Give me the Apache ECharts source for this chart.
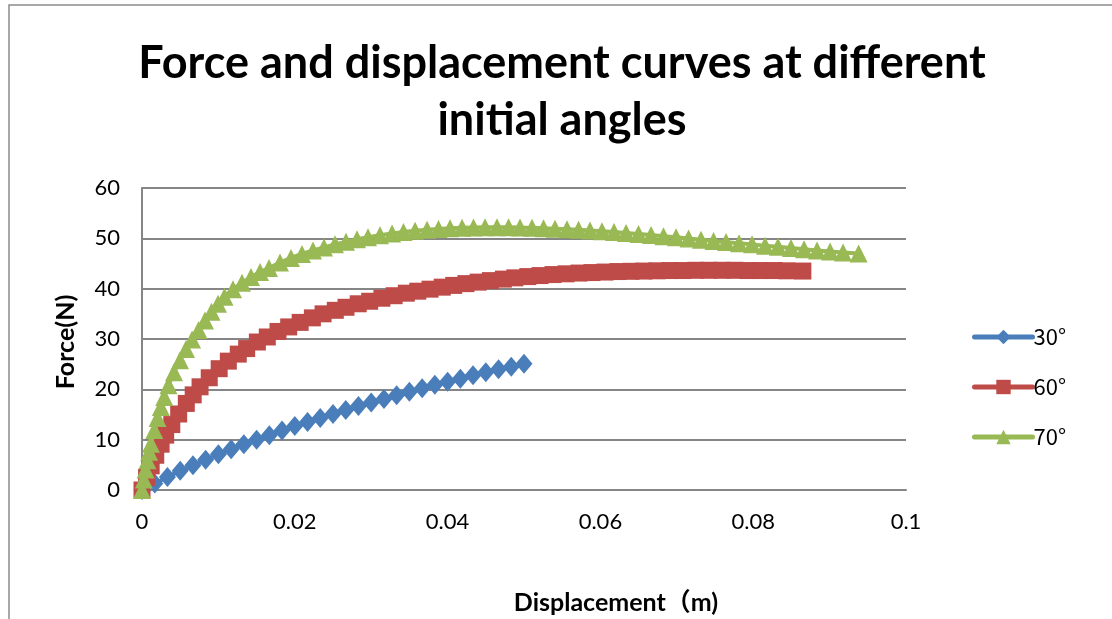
<!DOCTYPE html>
<html>
<head>
<meta charset="utf-8">
<script src="https://cdn.jsdelivr.net/npm/echarts@6/dist/echarts.min.js"></script>
<style>
  html, body { margin: 0; padding: 0; background: #fff; }
  #chart { width: 1112px; height: 619px; }
</style>
</head>
<body>
<div id="chart"></div>
<script>
// Force (N) versus displacement (m) for three initial angles
const seriesNames = ['30°', '60°', '70°'];

const disp30 = [0, 0.00167, 0.00333, 0.005, 0.00667, 0.00833, 0.01, 0.01167, 0.01333, 0.015,
  0.01667, 0.01833, 0.02, 0.02167, 0.02333, 0.025, 0.02667, 0.02833, 0.03, 0.03167,
  0.03333, 0.035, 0.03667, 0.03833, 0.04, 0.04167, 0.04333, 0.045, 0.04667, 0.04833, 0.05];
const force30 = [0, 1.3, 2.6, 3.8, 4.9, 6.0, 7.1, 8.1, 9.1, 10.0,
  10.9, 11.8, 12.7, 13.5, 14.3, 15.1, 15.9, 16.7, 17.4, 18.1,
  18.8, 19.5, 20.2, 20.9, 21.5, 22.1, 22.8, 23.4, 24.0, 24.5, 25.1];

const disp60 = [0, 0.0006, 0.0012, 0.0018, 0.0025, 0.0031, 0.0039, 0.0048, 0.0058, 0.0067,
  0.0076, 0.0088, 0.0101, 0.0113, 0.0126, 0.0137, 0.0151, 0.0164, 0.0178, 0.0192,
  0.0207, 0.0223, 0.0237, 0.0253, 0.0267, 0.0283, 0.0298, 0.0314, 0.0330, 0.0346,
  0.0361, 0.0377, 0.0393, 0.0408, 0.0424, 0.0440, 0.0456, 0.0473, 0.0488, 0.0505,
  0.0521, 0.0538, 0.0555, 0.0572, 0.0589, 0.0606, 0.0623, 0.0640, 0.0657, 0.0674,
  0.0691, 0.0708, 0.0725, 0.0742, 0.0759, 0.0776, 0.0793, 0.0810, 0.0827, 0.0844, 0.0865];
const force60 = [0, 2.5, 4.8, 6.9, 9.1, 10.9, 13.0, 15.1, 17.2, 18.9,
  20.5, 22.3, 24.1, 25.6, 27.0, 28.1, 29.4, 30.4, 31.5, 32.4,
  33.3, 34.2, 35.0, 35.7, 36.3, 37.0, 37.5, 38.1, 38.6, 39.1,
  39.5, 39.9, 40.3, 40.65, 41.0, 41.3, 41.6, 41.9, 42.15, 42.4,
  42.6, 42.8, 42.95, 43.1, 43.2, 43.3, 43.4, 43.45, 43.5, 43.55,
  43.6, 43.6, 43.65, 43.65, 43.65, 43.65, 43.6, 43.6, 43.6, 43.55, 43.5];

const disp70 = [0, 0.00024, 0.00047, 0.00071, 0.00094, 0.00118, 0.00161, 0.00204, 0.00247, 0.00291,
  0.00347, 0.00419, 0.00497, 0.00576, 0.00655, 0.0074, 0.00825, 0.0091, 0.00995, 0.0108,
  0.01191, 0.01309, 0.01427, 0.01545, 0.01662, 0.01806, 0.0195, 0.02094, 0.02238, 0.02382,
  0.02526, 0.0267, 0.02814, 0.02958, 0.03115, 0.03273, 0.03423, 0.03574, 0.03731, 0.03881,
  0.04032, 0.04189, 0.04339, 0.0449, 0.04647, 0.04798, 0.04948, 0.05105, 0.05256, 0.05406,
  0.05563, 0.05714, 0.05864, 0.06021, 0.06178, 0.06336, 0.06499, 0.06663, 0.06826, 0.0699,
  0.07154, 0.07317, 0.07481, 0.07645, 0.07815, 0.07985, 0.08155, 0.08325, 0.08495, 0.08666,
  0.08836, 0.09006, 0.09176, 0.0938];
const force70 = [0, 2.1, 4.05, 5.9, 7.6, 9.2, 11.9, 14.3, 16.5, 18.5,
  20.8, 23.4, 25.8, 28.0, 29.9, 31.8, 33.7, 35.4, 37.0, 38.4,
  39.9, 41.2, 42.3, 43.3, 44.1, 45.2, 46.1, 46.9, 47.6, 48.2,
  48.8, 49.3, 49.8, 50.2, 50.6, 50.95, 51.25, 51.5, 51.7, 51.85,
  52.0, 52.1, 52.15, 52.2, 52.2, 52.2, 52.15, 52.1, 52.0, 51.9,
  51.8, 51.7, 51.55, 51.4, 51.25, 51.05, 50.85, 50.65, 50.4, 50.2,
  49.95, 49.7, 49.45, 49.25, 49.0, 48.8, 48.55, 48.35, 48.1, 47.85,
  47.6, 47.4, 47.2, 47.0];

const yTicks = [0, 10, 20, 30, 40, 50, 60];
const xTicks = [0, 0.02, 0.04, 0.06, 0.08, 0.1];

const colors = ['#4A7EBB', '#BE4B48', '#98B954'];
const symbols = ['diamond', 'rect', 'triangle'];
const symbolSizes = [[17, 20], [17, 17], [18, 18]];

function pairs(xs, ys) {
  return xs.map((x, i) => [x, ys[i]]);
}

const seriesData = [pairs(disp30, force30), pairs(disp60, force60), pairs(disp70, force70)];

const chart = echarts.init(document.getElementById('chart'), null, { renderer: 'canvas' });

const baseFont = 'Lato, "Noto Sans", sans-serif';

chart.setOption({
  animation: false,
  backgroundColor: '#ffffff',
  color: colors,
  grid: { left: 142, right: 206, top: 188, bottom: 129, containLabel: false },
  xAxis: {
    type: 'value',
    min: xTicks[0],
    max: xTicks[xTicks.length - 1],
    interval: xTicks[1] - xTicks[0],
    axisLine: { show: true, lineStyle: { color: '#868686', width: 2 } },
    axisTick: { show: false },
    splitLine: { show: false },
    axisLabel: {
      color: '#000', fontFamily: baseFont, fontSize: 22, margin: 21,
      formatter: v => String(parseFloat(v.toFixed(2)))
    }
  },
  yAxis: {
    type: 'value',
    min: yTicks[0],
    max: yTicks[yTicks.length - 1],
    interval: yTicks[1] - yTicks[0],
    axisLine: { show: true, lineStyle: { color: '#868686', width: 2 } },
    axisTick: { show: false },
    splitLine: { show: true, lineStyle: { color: '#868686', width: 2 } },
    axisLabel: { color: '#000', fontFamily: baseFont, fontSize: 22, margin: 22 }
  },
  legend: {
    orient: 'vertical',
    left: 967,
    top: 321,
    itemWidth: 58,
    itemHeight: 18,
    itemGap: 28,
    lineStyle: { width: 5, cap: 'round' },
    textStyle: { color: '#000', fontFamily: '"Noto Sans CJK SC", ' + baseFont, fontSize: 22, padding: [0, 0, 0, -4] },
    data: seriesNames
  },
  graphic: [
    {
      type: 'rect', silent: true,
      shape: { x: 9, y: 5, width: 1300, height: 800 },
      style: { fill: null, stroke: '#8c8c8c', lineWidth: 1.5 }
    },
    {
      type: 'text', x: 562, y: 63,
      style: { text: 'Force and displacement curves at different', align: 'center', verticalAlign: 'middle',
        font: 'bold 45px Lato, "Noto Sans", sans-serif', fill: '#000' }
    },
    {
      type: 'text', x: 562, y: 120,
      style: { text: 'initial angles', align: 'center', verticalAlign: 'middle',
        font: 'bold 45px Lato, "Noto Sans", sans-serif', fill: '#000' }
    },
    {
      type: 'text', x: 66, y: 342, rotation: Math.PI / 2,
      style: { text: 'Force(N)', align: 'center', verticalAlign: 'middle',
        font: 'bold 25px Lato, "Noto Sans", sans-serif', fill: '#000' }
    },
    {
      type: 'text', x: 616, y: 603,
      style: { text: 'Displacement（m)', align: 'center', verticalAlign: 'middle',
        font: 'bold 25px Lato, "Noto Sans CJK SC", sans-serif', fill: '#000' }
    }
  ],
  series: seriesNames.map((name, i) => ({
    name: name,
    type: 'line',
    data: seriesData[i],
    symbol: symbols[i],
    symbolSize: symbolSizes[i],
    showAllSymbol: true,
    lineStyle: { width: 4, color: colors[i], cap: 'round' },
    itemStyle: { color: colors[i] },
    z: 2 + i
  }))
});
</script>
</body>
</html>
